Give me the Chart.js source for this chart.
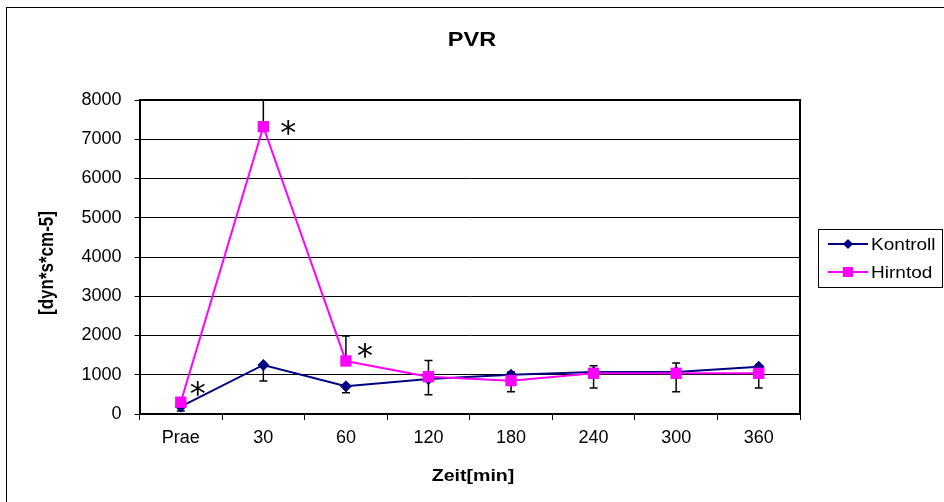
<!DOCTYPE html>
<html>
<head>
<meta charset="utf-8">
<script src="https://cdn.jsdelivr.net/npm/chart.js@4.4.0/dist/chart.umd.min.js"></script>
<style>
  html, body { margin: 0; padding: 0; background: #fff; }
  #pvrChart { display: block; }
</style>
</head>
<body>
<canvas id="pvrChart" width="944" height="502"></canvas>
<script>
// time points (x categories)
const categories = ["Prae", "30", "60", "120", "180", "240", "300", "360"];

// Kontroll group: mean and the (downward) error bar
const kontroll = [190, 1250, 710, 890, 1000, 1070, 1070, 1205];
const kontrollErrMinus = [114, 410, 170, 400, 430, 408, 502, 543];

// Hirntod group: mean and the (upward) error bar
const hirntod = [300, 7320, 1350, 950, 850, 1037, 1037, 1037];
const hirntodErrPlus = [60, 1500, 640, 410, 220, 193, 263, 60];

// points marked as significant (*)
const significant = [0, 1, 2];

const yMin = 0, yMax = 8000, yStep = 1000;

const FONT = "'Liberation Sans', Arial, sans-serif";

// draw text slightly widened, like the original export
function wideText(ctx, text, x, y, sx) {
    ctx.save();
    ctx.translate(x, y);
    ctx.scale(sx, 1);
    ctx.fillText(text, 0, 0);
    ctx.restore();
}

// error bars, drawn under the lines/markers
const errorBarPlugin = {
    id: "errorBars",
    beforeDatasetsDraw(chart) {
        const ctx = chart.ctx;
        const x = chart.scales.x, y = chart.scales.y;
        const area = chart.chartArea;
        ctx.save();
        ctx.beginPath();
        ctx.rect(area.left, area.top - 1, area.right - area.left, area.bottom - area.top + 1);
        ctx.clip();
        ctx.strokeStyle = "#000";
        ctx.lineWidth = 1.5;

        function bar(i, from, to) {
            const px = x.getPixelForValue(i);
            const p0 = y.getPixelForValue(from);
            const p1 = y.getPixelForValue(to);
            ctx.beginPath();
            ctx.moveTo(px, p0);
            ctx.lineTo(px, p1);
            ctx.moveTo(px - 4, p1);
            ctx.lineTo(px + 4, p1);
            ctx.stroke();
        }
        categories.forEach(function (c, i) {
            bar(i, kontroll[i], kontroll[i] - kontrollErrMinus[i]);
            bar(i, hirntod[i], hirntod[i] + hirntodErrPlus[i]);
        });
        ctx.restore();
    }
};

// titles, frame, asterisks and legend
const decorPlugin = {
    id: "decor",
    afterDraw(chart) {
        const ctx = chart.ctx;
        const area = chart.chartArea;
        const x = chart.scales.x, y = chart.scales.y;
        ctx.save();

        // outer chart border
        ctx.strokeStyle = "#000";
        ctx.lineWidth = 1;
        ctx.strokeRect(6.5, 7.5, 960, 520);

        // plot frame (top + right)
        ctx.lineWidth = 2;
        ctx.beginPath();
        ctx.moveTo(area.left, area.top);
        ctx.lineTo(area.right, area.top);
        ctx.lineTo(area.right, area.bottom);
        ctx.stroke();

        // title
        ctx.fillStyle = "#000";
        ctx.textAlign = "center";
        ctx.textBaseline = "middle";
        ctx.font = "bold 21px " + FONT;
        wideText(ctx, "PVR", 472, 40, 1.12);

        // axis titles
        ctx.font = "bold 17px " + FONT;
        wideText(ctx, "Zeit[min]", 473, 476, 1.15);
        ctx.save();
        ctx.translate(48, 263);
        ctx.rotate(-Math.PI / 2);
        ctx.scale(1, 1.15);
        ctx.fillText("[dyn*s*cm-5]", 0, 0);
        ctx.restore();

        // significance asterisks next to the Hirntod points
        const offsets = [[17, -14], [25, 1], [19, -10]];
        ctx.font = "32px 'DejaVu Sans', sans-serif";
        significant.forEach(function (i, k) {
            const px = x.getPixelForValue(i) + offsets[k][0];
            const py = y.getPixelForValue(hirntod[i]) + offsets[k][1];
            ctx.fillText("*", px, py + 7);
        });

        // legend
        ctx.lineWidth = 1;
        ctx.strokeStyle = "#000";
        ctx.strokeRect(818.5, 229.5, 124, 58);
        const items = [
            { label: "Kontroll", color: "#000080", shape: "diamond", y: 244 },
            { label: "Hirntod", color: "#FF00FF", shape: "square", y: 272 }
        ];
        items.forEach(function (it) {
            ctx.strokeStyle = it.color;
            ctx.fillStyle = it.color;
            ctx.lineWidth = 2;
            ctx.beginPath();
            ctx.moveTo(828, it.y);
            ctx.lineTo(868, it.y);
            ctx.stroke();
            ctx.beginPath();
            if (it.shape === "diamond") {
                ctx.moveTo(848, it.y - 5);
                ctx.lineTo(853, it.y);
                ctx.lineTo(848, it.y + 5);
                ctx.lineTo(843, it.y);
                ctx.closePath();
                ctx.fill();
            } else {
                ctx.fillRect(843, it.y - 5, 10, 10);
            }
            ctx.fillStyle = "#000";
            ctx.textAlign = "left";
            ctx.font = "17px " + FONT;
            wideText(ctx, it.label, 871, it.y + 1, 1.12);
        });

        ctx.restore();
    }
};

const pvrChart = new Chart(document.getElementById("pvrChart"), {
    type: "line",
    data: {
        labels: categories,
        datasets: [
            {
                label: "Hirntod",
                data: hirntod,
                borderColor: "#FF00FF",
                backgroundColor: "#FF00FF",
                borderWidth: 2,
                pointStyle: "rect",
                pointRadius: 8,
                pointBorderWidth: 0,
                tension: 0,
                order: 1
            },
            {
                label: "Kontroll",
                data: kontroll,
                borderColor: "#000080",
                backgroundColor: "#000080",
                borderWidth: 2,
                pointStyle: "rectRot",
                pointRadius: 6,
                pointBorderWidth: 0,
                tension: 0,
                order: 2
            }
        ]
    },
    options: {
        responsive: false,
        animation: false,
        clip: false,
        layout: { padding: { left: 8, right: 144, top: 100, bottom: 0 } },
        plugins: {
            legend: { display: false },
            title: { display: false },
            tooltip: { enabled: false }
        },
        scales: {
            x: {
                offset: true,
                grid: {
                    offset: true,
                    drawOnChartArea: false,
                    drawTicks: true,
                    tickLength: 6,
                    color: "#000",
                    lineWidth: 1
                },
                border: { display: true, color: "#000", width: 2 },
                ticks: {
                    color: "#000",
                    font: { family: FONT, size: 18 },
                    padding: 7,
                    maxRotation: 0
                },
                afterFit(scale) { scale.height = 88; }
            },
            y: {
                min: yMin,
                max: yMax,
                grid: {
                    drawTicks: true,
                    tickLength: 5,
                    color: "#000",
                    lineWidth: 1
                },
                border: { display: true, color: "#000", width: 2 },
                ticks: {
                    stepSize: yStep,
                    color: "#000",
                    font: { family: FONT, size: 18 },
                    padding: 13,
                    callback: function (value) { return String(value); }
                },
                afterFit(scale) { scale.width = 131.5; }
            }
        }
    },
    plugins: [errorBarPlugin, decorPlugin]
});
</script>
</body>
</html>
